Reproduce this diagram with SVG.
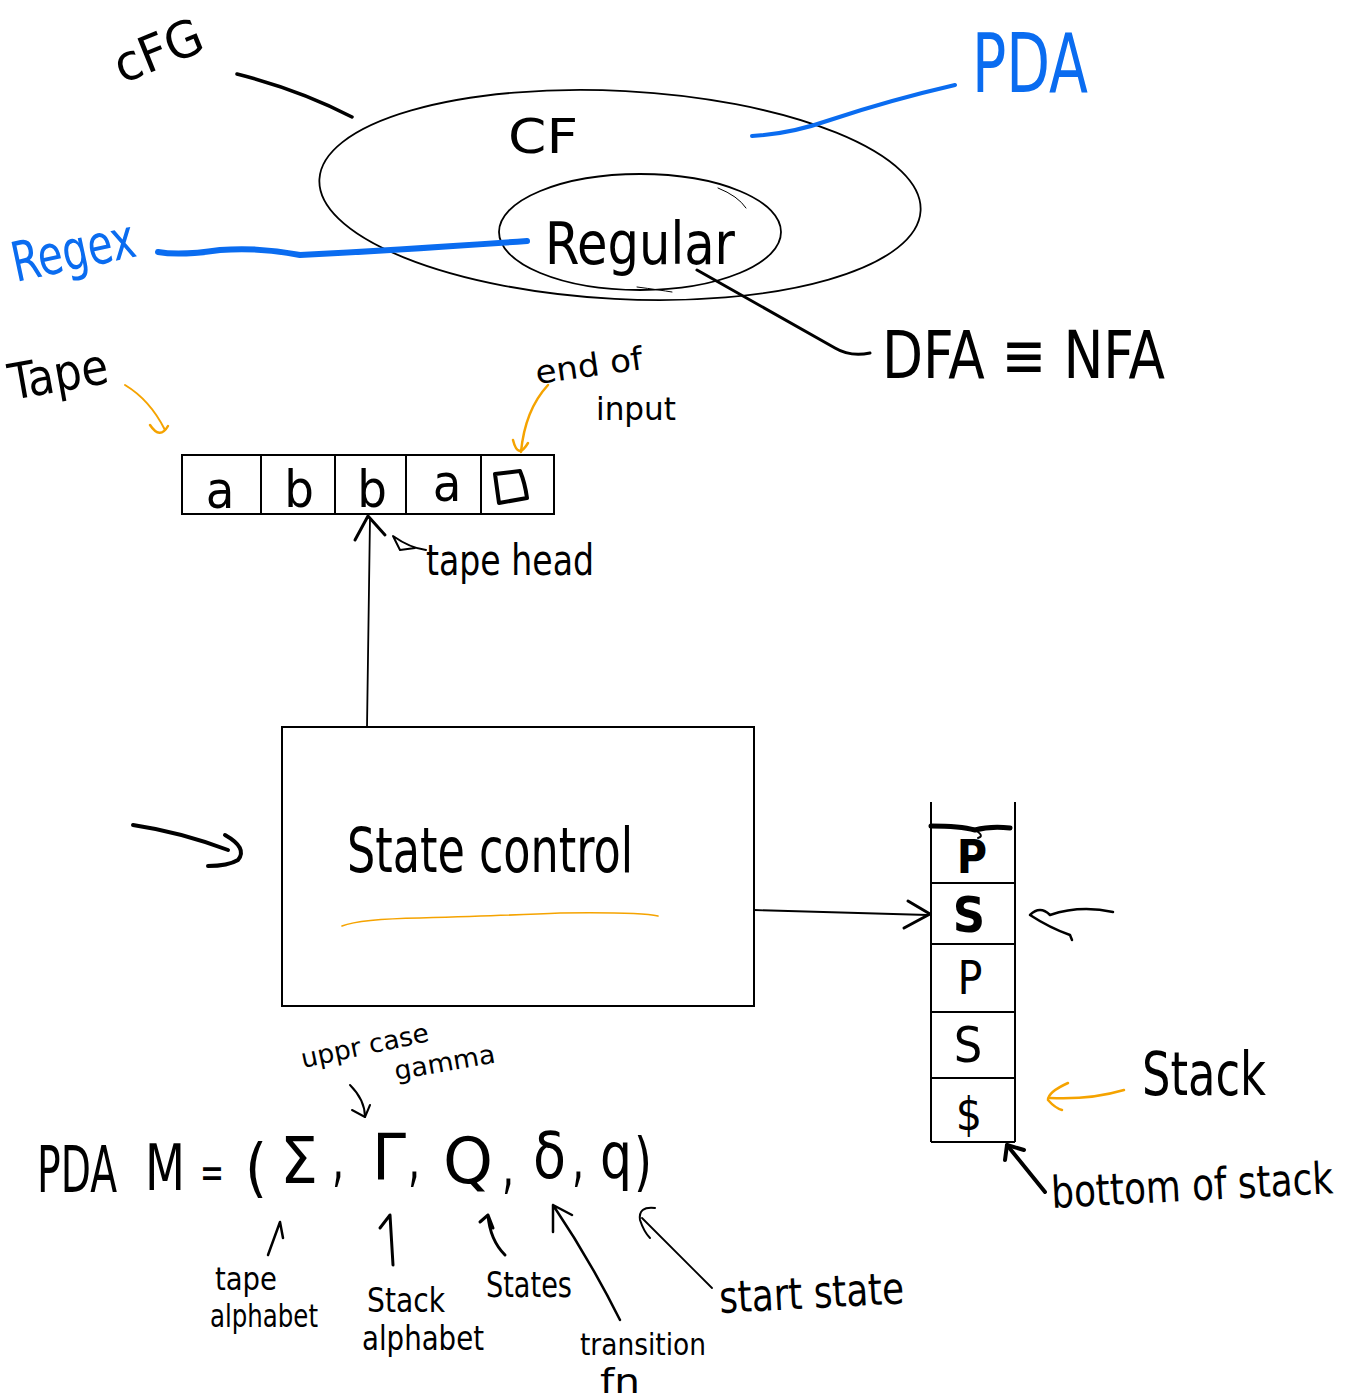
<svg xmlns="http://www.w3.org/2000/svg" width="1364" height="1399" viewBox="0 0 1364 1399">
<defs>
<style>
.t{font-family:"Liberation Sans Narrow","DejaVu Sans Condensed","Liberation Sans",sans-serif;fill:#000}
.b{fill:#0a6cf0}
.k{fill:none;stroke:#000;stroke-linecap:round;stroke-linejoin:round}
.o{fill:none;stroke:#f5a300;stroke-linecap:round;stroke-linejoin:round}
.bl{fill:none;stroke:#0a6cf0;stroke-linecap:round;stroke-linejoin:round}
.cell{fill:#fff;stroke:#000;stroke-width:2}
.tp{font-size:64px}
</style>
</defs>
<rect width="1364" height="1399" fill="#fff"/>

<g id="cf-ellipse">
<ellipse cx="620" cy="195" rx="301" ry="104" transform="rotate(3 620 195)" class="k" stroke-width="1.8"/>
<text class="t" x="508" y="153" font-size="48" textLength="70" lengthAdjust="spacingAndGlyphs">CF</text>
</g>
<g id="regular-ellipse">
<ellipse cx="640" cy="232" rx="141" ry="58" class="k" stroke-width="1.8"/>
<path d="M718 188 Q738 196 746 208" class="k" stroke-width="1"/>
<path d="M637 287 Q660 290 672 292" class="k" stroke-width="1"/>
<text class="t" x="545" y="264" font-size="58" textLength="190" lengthAdjust="spacingAndGlyphs">Regular</text>
</g>
<g id="cfg">
<text class="t" x="122" y="84" font-size="50" textLength="92" lengthAdjust="spacingAndGlyphs" transform="rotate(-22 122 84)">cFG</text>
</g>
<g id="regex">
<text class="t b" x="16" y="282" font-size="55" textLength="125" lengthAdjust="spacingAndGlyphs" transform="rotate(-12 16 282)">Regex</text>
</g>
<g id="pda-label">
<text class="t b" x="972" y="92" font-size="82" textLength="116" lengthAdjust="spacingAndGlyphs">PDA</text>
</g>
<g id="dfa-nfa">
<text class="t" x="882" y="378" font-size="66" textLength="283" lengthAdjust="spacingAndGlyphs">DFA ≡ NFA</text>
</g>

<g id="tape">
<rect x="182" y="455" width="372" height="59" class="cell"/>
<line x1="261" y1="455" x2="261" y2="514" stroke="#000" stroke-width="2"/>
<line x1="335" y1="455" x2="335" y2="514" stroke="#000" stroke-width="2"/>
<line x1="406" y1="455" x2="406" y2="514" stroke="#000" stroke-width="2"/>
<line x1="481" y1="455" x2="481" y2="514" stroke="#000" stroke-width="2"/>
<text class="t" x="220" y="508" font-size="52" text-anchor="middle">a</text>
<text class="t" x="299" y="507" font-size="52" text-anchor="middle">b</text>
<text class="t" x="372" y="507" font-size="52" text-anchor="middle">b</text>
<text class="t" x="447" y="501" font-size="52" text-anchor="middle">a</text>
<path d="M495 474 L520 471 Q525 483 527 498 L499 503 Z" class="k" stroke-width="4"/>
</g>
<g id="tape-label">
<text class="t" x="12" y="400" font-size="50" textLength="100" lengthAdjust="spacingAndGlyphs" transform="rotate(-10 12 400)">Tape</text>
</g>
<g id="end-of-input">
<text class="t" x="537" y="384" font-size="32" textLength="108" lengthAdjust="spacingAndGlyphs" transform="rotate(-8 537 384)">end of</text>
<text class="t" x="596" y="420" font-size="32" textLength="80" lengthAdjust="spacingAndGlyphs">input</text>
</g>
<g id="tape-head-label">
<text class="t" x="426" y="575" font-size="42" textLength="168" lengthAdjust="spacingAndGlyphs">tape head</text>
</g>

<g id="state-control">
<rect x="282" y="727" width="472" height="279" class="cell"/>
<text class="t" x="347" y="872" font-size="62" textLength="286" lengthAdjust="spacingAndGlyphs">State control</text>
<path d="M342 926 Q360 919 420 918 Q520 915 560 913 Q640 912 658 916" class="o" stroke-width="1.6"/>
</g>

<g id="stack">
<line x1="931" y1="802" x2="931" y2="1142" stroke="#000" stroke-width="2"/>
<line x1="1015" y1="802" x2="1015" y2="1142" stroke="#000" stroke-width="2"/>
<line x1="931" y1="883" x2="1015" y2="883" stroke="#000" stroke-width="2"/>
<line x1="931" y1="944" x2="1015" y2="944" stroke="#000" stroke-width="2"/>
<line x1="931" y1="1012" x2="1015" y2="1012" stroke="#000" stroke-width="2"/>
<line x1="931" y1="1078" x2="1015" y2="1078" stroke="#000" stroke-width="2"/>
<line x1="931" y1="1142" x2="1015" y2="1142" stroke="#000" stroke-width="2"/>
<path d="M931 826 Q960 826 975 830 Q990 826 1010 828" class="k" stroke-width="5"/>
<path d="M975 830 Q985 836 978 838" class="k" stroke-width="2"/>
<text class="t" x="972" y="873" font-size="46" text-anchor="middle" font-weight="bold">P</text>
<text class="t" x="969" y="932" font-size="50" text-anchor="middle" font-weight="bold">S</text>
<text class="t" x="970" y="994" font-size="46" text-anchor="middle">P</text>
<text class="t" x="968" y="1062" font-size="50" text-anchor="middle">S</text>
<text class="t" x="969" y="1130" font-size="46" text-anchor="middle">$</text>
</g>
<g id="stack-label">
<text class="t" x="1142" y="1095" font-size="60" textLength="124" lengthAdjust="spacingAndGlyphs">Stack</text>
</g>
<g id="bottom-label">
<text class="t" x="1052" y="1208" font-size="44" textLength="282" lengthAdjust="spacingAndGlyphs" transform="rotate(-3 1052 1208)">bottom of stack</text>
</g>

<g id="tuple">
<text class="t tp" x="37" y="1192" textLength="80" lengthAdjust="spacingAndGlyphs">PDA</text>
<text class="t tp" x="145" y="1190" textLength="40" lengthAdjust="spacingAndGlyphs">M</text>
<text class="t" x="200" y="1188" font-size="44" textLength="24" lengthAdjust="spacingAndGlyphs">=</text>
<text class="t tp" x="245" y="1190" textLength="22" lengthAdjust="spacingAndGlyphs">(</text>
<text class="t tp" x="280" y="1183" textLength="38" lengthAdjust="spacingAndGlyphs">Σ</text>
<text class="t tp" x="332" y="1180" textLength="12" lengthAdjust="spacingAndGlyphs">,</text>
<text class="t tp" x="372" y="1180" textLength="34" lengthAdjust="spacingAndGlyphs">Γ</text>
<text class="t tp" x="408" y="1180" textLength="12" lengthAdjust="spacingAndGlyphs">,</text>
<text class="t tp" x="443" y="1183" textLength="50" lengthAdjust="spacingAndGlyphs">Q</text>
<text class="t tp" x="502" y="1187" textLength="12" lengthAdjust="spacingAndGlyphs">,</text>
<text class="t tp" x="533" y="1178" textLength="33" lengthAdjust="spacingAndGlyphs">δ</text>
<text class="t tp" x="572" y="1180" textLength="12" lengthAdjust="spacingAndGlyphs">,</text>
<text class="t tp" x="600" y="1178" textLength="32" lengthAdjust="spacingAndGlyphs">q</text>
<text class="t tp" x="634" y="1184" textLength="18" lengthAdjust="spacingAndGlyphs">)</text>
</g>
<g id="upper-case-gamma">
<text class="t" x="303" y="1068" font-size="26" textLength="130" lengthAdjust="spacingAndGlyphs" transform="rotate(-12 303 1068)">uppr case</text>
<text class="t" x="396" y="1080" font-size="26" textLength="102" lengthAdjust="spacingAndGlyphs" transform="rotate(-10 396 1080)">gamma</text>
</g>
<g id="tape-alphabet">
<text class="t" x="215" y="1290" font-size="32" textLength="62" lengthAdjust="spacingAndGlyphs">tape</text>
<text class="t" x="210" y="1327" font-size="32" textLength="108" lengthAdjust="spacingAndGlyphs">alphabet</text>
</g>
<g id="stack-alphabet">
<text class="t" x="367" y="1312" font-size="34" textLength="78" lengthAdjust="spacingAndGlyphs">Stack</text>
<text class="t" x="362" y="1350" font-size="34" textLength="122" lengthAdjust="spacingAndGlyphs">alphabet</text>
</g>
<g id="states">
<text class="t" x="486" y="1297" font-size="36" textLength="86" lengthAdjust="spacingAndGlyphs">States</text>
</g>
<g id="transition-fn">
<text class="t" x="580" y="1355" font-size="30" textLength="126" lengthAdjust="spacingAndGlyphs">transition</text>
<text class="t" x="600" y="1393" font-size="34" textLength="40" lengthAdjust="spacingAndGlyphs">fn</text>
</g>
<g id="start-state">
<text class="t" x="720" y="1313" font-size="44" textLength="185" lengthAdjust="spacingAndGlyphs" transform="rotate(-3 720 1313)">start state</text>
</g>

<g id="connectors">
<path d="M237 74 Q300 90 352 117" class="k" stroke-width="3.5"/>
<path d="M158 252 Q180 256 220 250 Q260 247 300 255 Q400 250 527 241" class="bl" stroke-width="6"/>
<path d="M752 136 Q790 134 830 120 Q890 100 955 85" class="bl" stroke-width="4"/>
<path d="M697 270 L835 348 Q850 357 870 353" class="k" stroke-width="3"/>
<path d="M125 385 Q150 400 165 430" class="o" stroke-width="2"/>
<path d="M150 425 Q160 440 168 426" class="o" stroke-width="2.5"/>
<path d="M548 385 Q525 410 521 452" class="o" stroke-width="2.5"/>
<path d="M513 440 Q518 460 528 443" class="o" stroke-width="2.5"/>
<path d="M367 727 L370 518" class="k" stroke-width="1.8"/>
<path d="M355 540 L368 516 L385 535" class="k" stroke-width="3"/>
<path d="M426 550 Q410 548 393 536 L400 550 L415 548" class="k" stroke-width="2"/>
<path d="M133 825 Q180 832 228 850" class="k" stroke-width="4"/>
<path d="M225 835 Q248 848 238 860 Q228 866 208 866" class="k" stroke-width="4"/>
<path d="M754 910 L928 915" class="k" stroke-width="1.8"/>
<path d="M908 901 L930 914 L904 928" class="k" stroke-width="3"/>
<path d="M1113 912 Q1080 905 1050 915 Q1040 905 1030 915 Q1050 928 1070 935 L1072 940" class="k" stroke-width="2.5"/>
<path d="M1124 1090 Q1090 1100 1050 1098" class="o" stroke-width="2.5"/>
<path d="M1068 1083 Q1048 1092 1048 1100 Q1055 1108 1062 1110" class="o" stroke-width="2.5"/>
<path d="M1045 1192 L1007 1145" class="k" stroke-width="4"/>
<path d="M1005 1160 L1007 1145 L1024 1150" class="k" stroke-width="4"/>
<path d="M350 1085 Q365 1100 365 1117" class="k" stroke-width="2"/>
<path d="M352 1110 L365 1117 L370 1105" class="k" stroke-width="2"/>
<path d="M268 1255 L280 1222 L283 1238" class="k" stroke-width="2.5"/>
<path d="M393 1265 L390 1215 L380 1228" class="k" stroke-width="3"/>
<path d="M505 1255 Q490 1240 488 1215 L480 1222 M488 1215 L493 1228" class="k" stroke-width="3"/>
<path d="M620 1320 Q590 1260 553 1205 L553 1232 M553 1205 L572 1215" class="k" stroke-width="2.5"/>
<path d="M712 1288 L642 1218" class="k" stroke-width="1.8"/>
<path d="M655 1208 Q638 1206 640 1220 Q644 1232 650 1238" class="k" stroke-width="2"/>
</g>
</svg>
